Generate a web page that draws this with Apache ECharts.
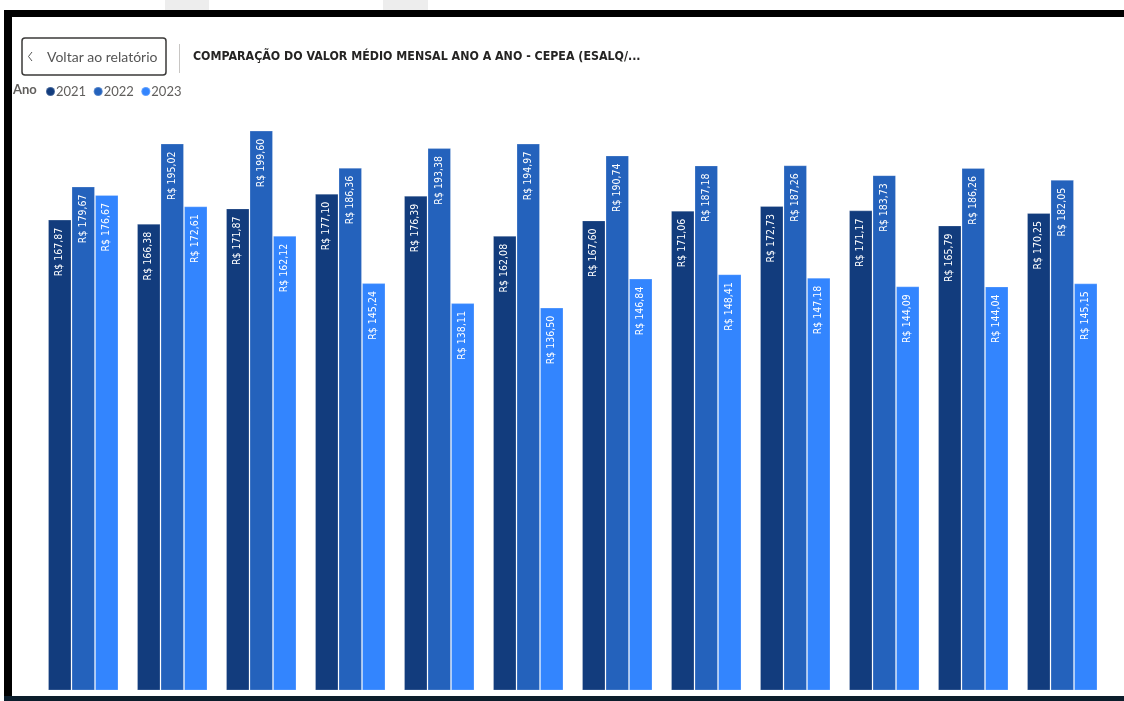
<!DOCTYPE html>
<html>
<head>
<meta charset="utf-8">
<script src="https://cdn.jsdelivr.net/npm/echarts@6/dist/echarts.min.js"></script>
<style>
html,body{margin:0;padding:0;background:#fff;}
#chart{width:1124px;height:701px;}
</style>
</head>
<body>
<div id="chart"></div>
<script>
const months = ['jan','fev','mar','abr','mai','jun','jul','ago','set','out','nov','dez'];
const years = ['2021','2022','2023'];
const v2021 = [167.87,166.38,171.87,177.10,176.39,162.08,167.60,171.06,172.73,171.17,165.79,170.25];
const v2022 = [179.67,195.02,199.60,186.36,193.38,194.97,190.74,187.18,187.26,183.73,186.26,182.05];
const v2023 = [176.67,172.61,162.12,145.24,138.11,136.50,146.84,148.41,147.18,144.09,144.04,145.15];
const colors = ['#123C7D','#2462BC','#3385FE'];
const titleText = 'COMPARAÇÃO DO VALOR MÉDIO MENSAL ANO A ANO - CEPEA (ESALQ/...';

const chart = echarts.init(document.getElementById('chart'));
function fmt(v){ return 'R$ ' + v.toFixed(2).replace('.', ','); }
const labelFont = "'Liberation Sans Narrow','DejaVu Sans Condensed','Roboto',sans-serif";
function mkSeries(name, data, color){
  return {
    name: name, type: 'bar', data: data,
    barGap: '0%', barCategoryGap: '20.8%',
    itemStyle: { color: color, borderColor: 'rgba(255,255,255,0.22)', borderWidth: 1 },
    label: {
      show: true, position: 'insideTop', rotate: 90, distance: 8,
      align: 'right', verticalAlign: 'middle',
      color: '#ffffff', fontSize: 10.5, fontFamily: labelFont,
      formatter: p => fmt(p.value)
    },
    emphasis: { disabled: true }
  };
}
chart.setOption({
  animation: false,
  backgroundColor: '#ffffff',
  color: colors,
  grid: { left: 38.75, right: 17.25, top: 129.5, bottom: 10.5, containLabel: false },
  legend: {
    data: years, left: 40, top: 80, icon: 'circle', itemWidth: 9, itemHeight: 9, itemGap: 6.5,
    textStyle: { fontSize: 13, color: '#605E5C', fontFamily: "'Lato','Noto Sans',sans-serif", padding: [0,0,0,-4] }
  },
  xAxis: { type: 'category', data: months, show: false },
  yAxis: { type: 'value', min: 0, max: 200, show: false, splitLine: { show: false } },
  series: [ mkSeries(years[0], v2021, colors[0]), mkSeries(years[1], v2022, colors[1]), mkSeries(years[2], v2023, colors[2]) ],
  graphic: [
    { type: 'rect', shape: { x: 165, y: 0, width: 44, height: 10 }, style: { fill: '#EDEDED' }, silent: true },
    { type: 'rect', shape: { x: 383, y: 0, width: 45, height: 10 }, style: { fill: '#EDEDED' }, silent: true },
    { type: 'rect', shape: { x: 4, y: 10, width: 1120, height: 7 }, style: { fill: '#000000' }, silent: true },
    { type: 'rect', shape: { x: 4, y: 10, width: 8, height: 686 }, style: { fill: '#000000' }, silent: true },
    { type: 'rect', shape: { x: 4, y: 696, width: 1120, height: 5 }, style: { fill: '#0B1D2B' }, silent: true },
    { type: 'rect', shape: { x: 22, y: 38, width: 144, height: 37, r: 3 }, style: { fill: '#ffffff', stroke: '#3B3A39', lineWidth: 1.5 }, silent: true },
    { type: 'polyline', shape: { points: [[32, 52], [28.5, 56.5], [32, 61]] }, style: { stroke: '#555555', lineWidth: 1, fill: null }, silent: true },
    { type: 'text', x: 47, y: 57, style: { text: 'Voltar ao relatório', fontSize: 14, fill: '#555555', fontFamily: "'Lato','Noto Sans',sans-serif", verticalAlign: 'middle' }, silent: true },
    { type: 'line', shape: { x1: 179.5, y1: 44, x2: 179.5, y2: 73 }, style: { stroke: '#C8C6C4', lineWidth: 1 }, silent: true },
    { type: 'text', x: 193, y: 57, style: { text: titleText, fontSize: 12.3, fontWeight: 'bold', fill: '#252423', fontFamily: "'DejaVu Sans Condensed','Liberation Sans Narrow',sans-serif", verticalAlign: 'middle' }, silent: true },
    { type: 'text', x: 13, y: 90, style: { text: 'Ano', fontSize: 13, fontWeight: 'bold', fill: '#605E5C', fontFamily: "'Lato','Noto Sans',sans-serif", verticalAlign: 'middle' }, silent: true }
  ]
});
</script>
</body>
</html>
